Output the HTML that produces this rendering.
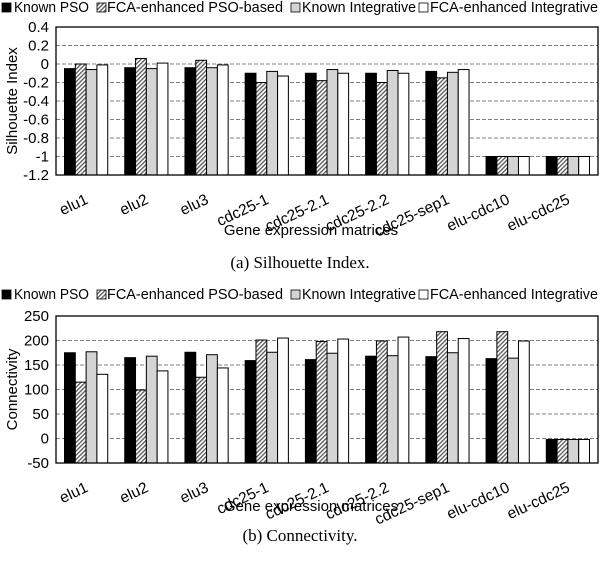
<!DOCTYPE html>
<html><head><meta charset="utf-8"><style>
body{margin:0;background:#fff}
svg{display:block;font-family:"Liberation Sans",Arial,sans-serif}
</style></head><body>
<svg id="svg" width="600" height="561" viewBox="0 0 600 561">
<defs>
<pattern id="hatch" patternUnits="userSpaceOnUse" width="3" height="3" patternTransform="rotate(45)">
<rect width="3" height="3" fill="#fff"/><rect width="1.3" height="3" fill="#555"/>
</pattern>
</defs>
</svg>
<script>
const categories = ["elu1","elu2","elu3","cdc25-1","cdc25-2.1","cdc25-2.2","cdc25-sep1","elu-cdc10","elu-cdc25"];
const seriesNames = ["Known PSO","FCA-enhanced PSO-based","Known Integrative","FCA-enhanced Integrative"];
const silKnownPSO = [-0.05,-0.04,-0.04,-0.10,-0.10,-0.10,-0.08,-1,-1];
const silFcaPSO = [0.00,0.06,0.04,-0.20,-0.18,-0.20,-0.15,-1,-1];
const silKnownInt = [-0.06,-0.05,-0.04,-0.08,-0.06,-0.07,-0.09,-1,-1];
const silFcaInt = [-0.01,0.01,-0.01,-0.13,-0.10,-0.10,-0.06,-1,-1];
const silTicks = [0.4,0.2,0,-0.2,-0.4,-0.6,-0.8,-1,-1.2];
const conKnownPSO = [175,165,176,159,161,168,167,163,-2];
const conFcaPSO = [115,99,125,201,198,199,218,218,-2];
const conKnownInt = [177,168,171,176,174,169,175,164,-2];
const conFcaInt = [131,138,144,205,203,207,204,199,-2];
const conTicks = [250,200,150,100,50,0,-50];

const NS="http://www.w3.org/2000/svg";
const svg=document.getElementById('svg');
function mk(tag,attrs,parent,text){const e=document.createElementNS(NS,tag);for(const k in attrs)e.setAttribute(k,attrs[k]);if(text!==undefined)e.textContent=text;(parent||svg).appendChild(e);return e;}
const fills=["#000","url(#hatch)","#d4d4d4","#fff"];

function legend(y,name){
  const g=mk('g',{},svg);
  
  
  const bx=[2,97,291,419], tx=[14,107,302,430], tl=[75,176,114,168];
  for(let i=0;i<4;i++){
    const r=mk('rect',{x:bx[i],y:y-9,width:9,height:9,fill:fills[i],stroke:"#000","stroke-width":0.8},g);
    
    
    const t=mk('text',{x:tx[i],y:y,"font-size":14.5,textLength:tl[i],lengthAdjust:"spacingAndGlyphs"},g,seriesNames[i]);
    
    
  }
}

function chart(o){
  const g=mk('g',{},svg);
  
  
  const L=56,R=598,T=o.top,B=o.bottom;
  const ymin=o.ticks[o.ticks.length-1], ymax=o.ticks[0];
  const yS=v=>B-(v-ymin)/(ymax-ymin)*(B-T);
  const gw=(R-L)/categories.length;
  o.ticks.forEach(t=>{
    const y=yS(t);
    if(t!==ymin&&t!==ymax){
      const l=mk('line',{x1:L,x2:R,y1:y,y2:y,stroke:"#808080","stroke-dasharray":"4,2","stroke-width":1},g);
      
      
    }
    const tl=mk('text',{x:L-7,y:y+5,"font-size":15,"text-anchor":"end"},g,String(t));
    
    
  });
  const bw=10.8;
  o.series.forEach((arr,si)=>{
    arr.forEach((v,ci)=>{
      const cx=L+gw*(ci+0.5);
      const x=cx-2*bw+si*bw;
      const y=yS(v);
      const r=mk('rect',{x:x,y:y,width:bw,height:B-y,fill:fills[si],stroke:"#000","stroke-width":1},g);
      
      
    });
  });
  const frame=mk('rect',{x:L,y:T,width:R-L,height:B-T,fill:"none",stroke:"#000","stroke-width":1.3},g);
  
  
  categories.forEach((c,ci)=>{
    const cx=L+gw*(ci+0.5)+3, y=B+28;
    const t=mk('text',{x:cx,y:y,"font-size":15.5,"text-anchor":"end",transform:`rotate(-25 ${cx} ${y})`},g,c);
    
    
  });
  const yt=mk('text',{x:0,y:0,"font-size":15,"text-anchor":"middle",transform:`translate(17 ${(T+B)/2}) rotate(-90)`},g,o.ytitle);
  
  
  const xt=mk('text',{x:311,y:o.xtitleY,"font-size":15,"text-anchor":"middle"},g,"Gene expression matrices");
  
  
  const cap=mk('text',{x:300,y:o.capY,"font-size":17,"text-anchor":"middle","font-family":"Liberation Serif, serif"},g,o.caption);
  
  
}

legend(12,'legend-silhouette');
chart({name:'silhouette-chart',top:27,bottom:175,ticks:silTicks,series:[silKnownPSO,silFcaPSO,silKnownInt,silFcaInt],ytitle:"Silhouette Index",xtitleY:235,capY:268,caption:"(a)  Silhouette Index."});
legend(299,'legend-connectivity');
chart({name:'connectivity-chart',top:316,bottom:463,ticks:conTicks,series:[conKnownPSO,conFcaPSO,conKnownInt,conFcaInt],ytitle:"Connectivity",xtitleY:511,capY:541,caption:"(b)  Connectivity."});
</script>
</body></html>
